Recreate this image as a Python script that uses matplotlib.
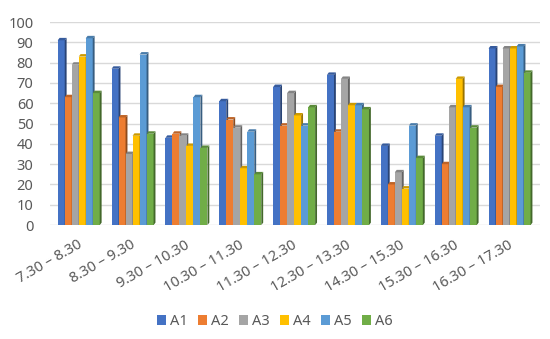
import numpy as np
import matplotlib.pyplot as plt
from matplotlib.patches import Polygon
from matplotlib.colors import to_rgb

plt.rcParams['font.family'] = ['Noto Sans', 'DejaVu Sans']

# 时间段
categories = ['7.30 – 8.30', '8.30 – 9.30', '9.30 – 10.30', '10.30 – 11.30',
              '11.30 – 12.30', '12.30 – 13.30', '14.30 – 15.30',
              '15.30 – 16.30', '16.30 – 17.30']
series_names = ['A1', 'A2', 'A3', 'A4', 'A5', 'A6']
a1 = [91, 77, 43, 61, 68, 74, 39, 44, 87]
a2 = [63, 53, 45, 52, 49, 46, 20, 30, 68]
a3 = [79, 35, 44, 48, 65, 72, 26, 58, 87]
a4 = [83, 44, 39, 28, 54, 59, 18, 72, 87]
a5 = [92, 84, 63, 46, 49, 59, 49, 58, 88]
a6 = [65, 45, 38, 25, 58, 57, 33, 48, 75]
all_series = [a1, a2, a3, a4, a5, a6]
colors = ['#4472C4', '#ED7D31', '#A5A5A5', '#FFC000', '#5B9BD5', '#70AD47']

fig = plt.figure(figsize=(5.5, 3.39), dpi=100)
ax = fig.add_axes([0.091, 0.336, 0.891, 0.599])

x = np.arange(len(categories))
w = 0.13
dx = 0.035  # 侧面厚度，模仿3D效果
dy = 1.2

def darker(c, f):
    r, g, b = to_rgb(c)
    return (r * f, g * f, b * f)

for i, (vals, name, c) in enumerate(zip(all_series, series_names, colors)):
    pos = x - 2.5 * w + i * w - dx / 2
    ax.bar(pos, vals, width=w, color=c, label=name, zorder=3)
    for px, v in zip(pos, vals):
        r = px + w / 2
        side = Polygon([(r, 0), (r + dx, dy), (r + dx, v + dy), (r, v)],
                       closed=True, facecolor=darker(c, 0.6), edgecolor='none', zorder=3)
        top = Polygon([(r - w, v), (r - w + dx, v + dy), (r + dx, v + dy), (r, v)],
                      closed=True, facecolor=darker(c, 0.8), edgecolor='none', zorder=3)
        ax.add_patch(side)
        ax.add_patch(top)

ax.set_ylim(0, 100)
ax.set_xlim(-0.55, len(categories) - 0.45)
ax.set_yticks(range(0, 101, 10))
ax.yaxis.grid(True, color='#D9D9D9', linewidth=1, zorder=0)
ax.set_axisbelow(True)
for s in ax.spines.values():
    s.set_visible(False)
ax.tick_params(axis='both', length=0, colors='#595959', labelsize=10.5)
ax.tick_params(axis='y', pad=12)
ax.tick_params(axis='x', pad=9)
ax.set_xticks(x - 0.05)
ax.set_xticklabels(categories, rotation=30, ha='right', rotation_mode='anchor')

fig.legend(loc='lower center', bbox_to_anchor=(0.5, -0.01), ncol=6, frameon=False,
           fontsize=10.5, handlelength=0.6, handleheight=0.6, handletextpad=0.3,
           columnspacing=0.7, labelcolor='#595959')

plt.savefig('out.png')
